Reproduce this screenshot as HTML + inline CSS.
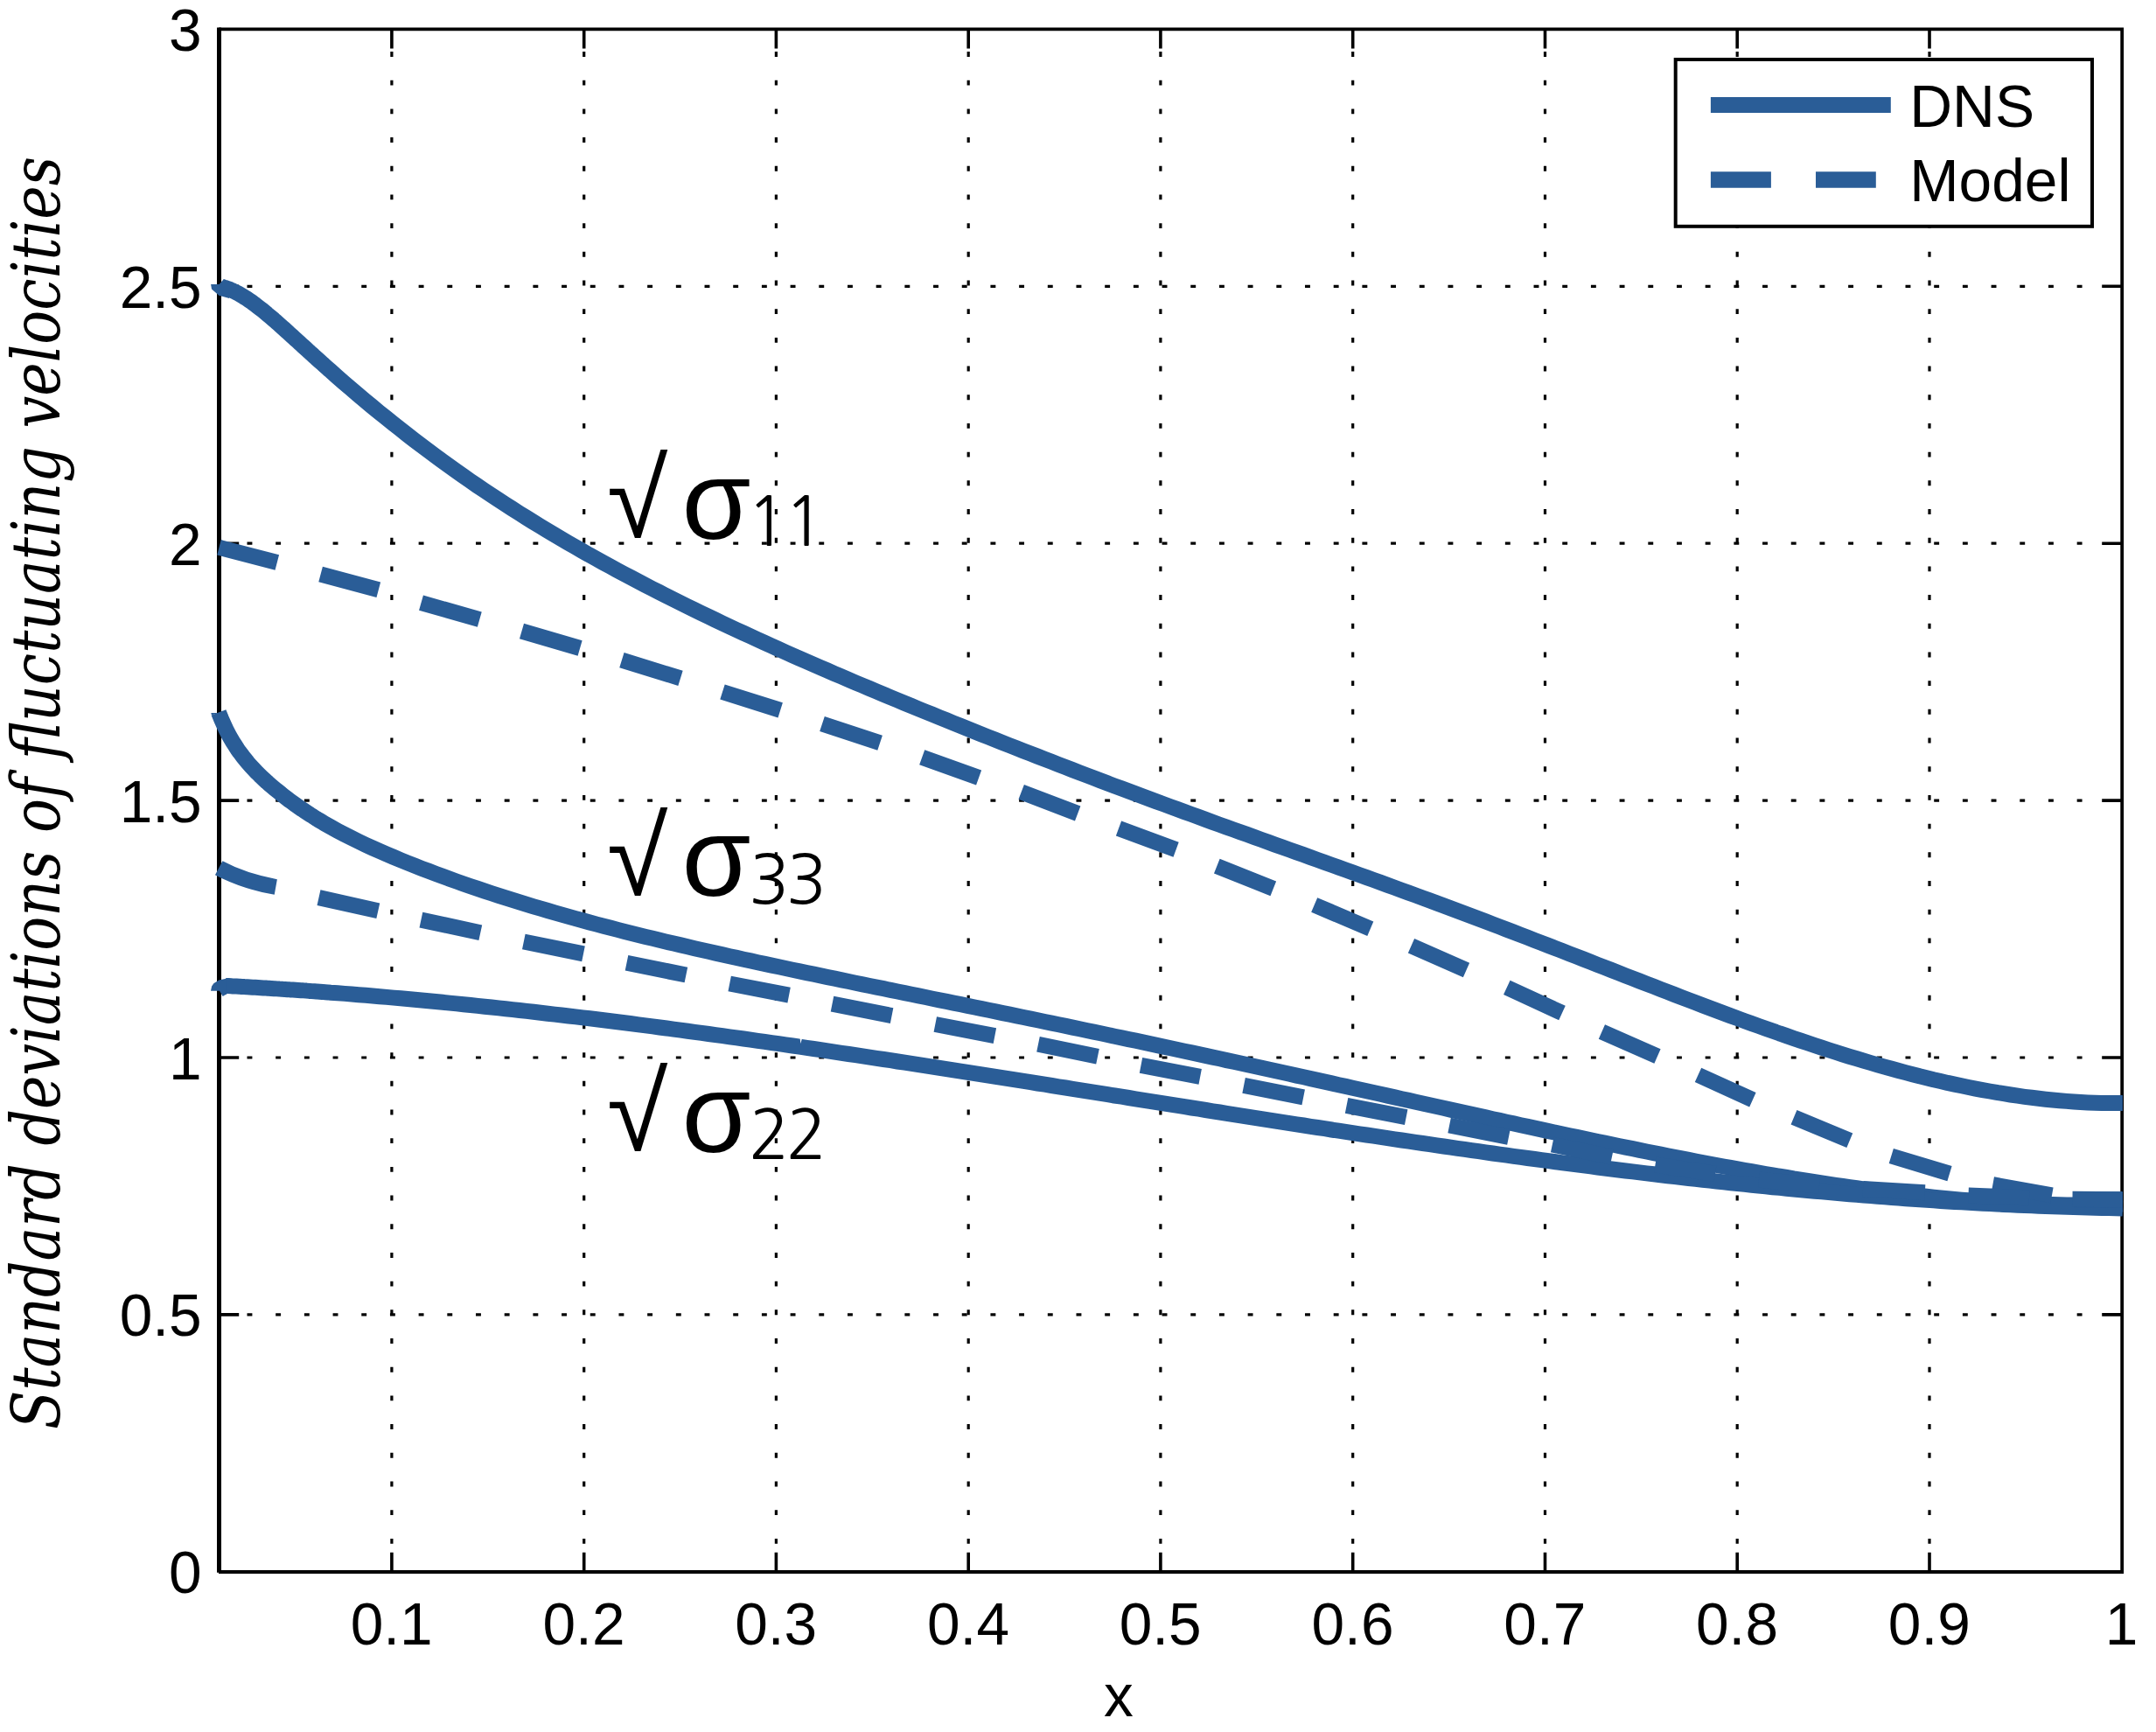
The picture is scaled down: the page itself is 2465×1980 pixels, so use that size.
<!DOCTYPE html>
<html><head><meta charset="utf-8"><title>Standard deviations of fluctuating velocities</title>
<style>
html,body{margin:0;padding:0;background:#fff}
svg{display:block}
text{font-family:"Liberation Sans",sans-serif;fill:#000}
.tk{font-size:67.6px}
.g{stroke:#000;stroke-width:3.2;stroke-dasharray:5.9 26.79;fill:none}
.c{stroke:#2a5d97;stroke-width:18;fill:none;stroke-linejoin:round}
.rt{font-size:126.5px}
.sg{font-size:128px}
.sb{font-family:"NanumGothic","Liberation Sans",sans-serif;font-size:76.5px;letter-spacing:-3.6px}
</style></head><body>
<svg width="2465" height="1980" viewBox="0 0 2465 1980">
<rect width="2465" height="1980" fill="#fff"/>

<g class="g">
<path d="M447.9 59V1771.8"/>
<path d="M667.7 59V1771.8"/>
<path d="M887.4 59V1771.8"/>
<path d="M1107.2 59V1771.8"/>
<path d="M1326.9 59V1771.8"/>
<path d="M1546.7 59V1771.8"/>
<path d="M1766.5 59V1771.8"/>
<path d="M1986.2 59V1771.8"/>
<path d="M2206.0 59V1771.8"/>
<path d="M282.5 1502.9H2401.2"/>
<path d="M282.5 1209.0H2401.2"/>
<path d="M282.5 915.1H2401.2"/>
<path d="M282.5 621.2H2401.2"/>
<path d="M282.5 327.3H2401.2"/>
</g>
<g stroke="#000" stroke-width="3.6" fill="none">
<path d="M447.9 33.4v22M447.9 1796.8v-22"/>
<path d="M667.7 33.4v22M667.7 1796.8v-22"/>
<path d="M887.4 33.4v22M887.4 1796.8v-22"/>
<path d="M1107.2 33.4v22M1107.2 1796.8v-22"/>
<path d="M1326.9 33.4v22M1326.9 1796.8v-22"/>
<path d="M1546.7 33.4v22M1546.7 1796.8v-22"/>
<path d="M1766.5 33.4v22M1766.5 1796.8v-22"/>
<path d="M1986.2 33.4v22M1986.2 1796.8v-22"/>
<path d="M2206.0 33.4v22M2206.0 1796.8v-22"/>
<path d="M250.7 1502.9h22.5M2426.2 1502.9h-23"/>
<path d="M250.7 1209.0h22.5M2426.2 1209.0h-23"/>
<path d="M250.7 915.1h22.5M2426.2 915.1h-23"/>
<path d="M250.7 621.2h22.5M2426.2 621.2h-23"/>
<path d="M250.7 327.3h22.5M2426.2 327.3h-23"/>
</g>
<g stroke="#000" fill="none"><path d="M250.5 31.5V1797.8" stroke-width="5"/><path d="M250 33.4H2428.1M2426.2 31.5V1798.9M250 1797H2428.1" stroke-width="3.8"/></g>
<path class="c" d="M257.1 328.9L260.2 330.0L263.3 331.1L265.1 331.9L266.3 332.5L269.4 334.0L272.5 335.6L273.1 335.9L275.6 337.3L278.6 339.2L281.1 340.7L281.7 341.1L284.8 343.2L287.9 345.3L289.1 346.2L290.9 347.6L294.0 349.9L297.1 352.3L297.1 352.3L300.2 354.7L303.3 357.2L305.1 358.8L306.3 359.8L309.4 362.4L312.5 365.0L313.1 365.6L315.6 367.7L318.6 370.4L321.2 372.7L321.7 373.2L324.8 375.9L327.9 378.7L329.2 379.9L330.9 381.5L334.0 384.3L337.1 387.1L337.2 387.2L340.2 389.9L343.3 392.7L345.2 394.5L346.3 395.5L349.4 398.3L352.5 401.1L353.2 401.8L355.6 403.9L358.6 406.7L361.2 409.0L361.7 409.5L364.8 412.3L367.9 415.0L369.2 416.2L370.9 417.8L374.0 420.5L377.1 423.3L377.2 423.3L385.2 430.4L393.2 437.4L401.2 444.3L409.2 451.1L417.2 457.8L425.2 464.5L433.2 471.1L441.3 477.6L449.3 484.0L457.3 490.3L465.3 496.6L473.3 502.8L481.3 508.9L489.3 514.9L497.3 520.9L505.3 526.7L513.3 532.5L521.3 538.3L529.3 543.9L537.3 549.5L545.3 555.0L553.3 560.4L561.4 565.7L569.4 571.0L577.4 576.2L585.4 581.4L593.4 586.5L601.4 591.5L609.4 596.5L617.4 601.4L625.4 606.2L633.4 611.0L641.4 615.7L649.4 620.4L657.4 625.0L665.4 629.6L673.4 634.2L681.5 638.6L689.5 643.1L697.5 647.4L705.5 651.8L713.5 656.1L721.5 660.3L729.5 664.5L737.5 668.7L745.5 672.9L753.5 676.9L761.5 681.0L769.5 685.0L777.5 689.0L785.5 693.0L793.5 696.9L801.6 700.8L809.6 704.7L817.6 708.5L825.6 712.3L833.6 716.1L841.6 719.8L849.6 723.5L857.6 727.2L865.6 730.9L873.6 734.5L881.6 738.2L889.6 741.8L897.6 745.4L905.6 748.9L913.6 752.5L921.7 756.0L929.7 759.5L937.7 763.0L945.7 766.4L953.7 769.9L961.7 773.3L969.7 776.8L977.7 780.2L985.7 783.5L993.7 786.9L1001.7 790.3L1009.7 793.6L1017.7 797.0L1025.7 800.3L1033.7 803.6L1041.8 806.9L1049.8 810.2L1057.8 813.5L1065.8 816.7L1073.8 820.0L1081.8 823.2L1089.8 826.5L1097.8 829.7L1105.8 832.9L1113.8 836.1L1121.8 839.3L1129.8 842.5L1137.8 845.7L1145.8 848.8L1153.8 852.0L1161.9 855.1L1169.9 858.3L1177.9 861.4L1185.9 864.5L1193.9 867.6L1201.9 870.7L1209.9 873.8L1217.9 876.9L1225.9 880.0L1233.9 883.1L1241.9 886.1L1249.9 889.2L1257.9 892.2L1265.9 895.2L1273.9 898.3L1282.0 901.3L1290.0 904.3L1298.0 907.3L1306.0 910.2L1314.0 913.2L1322.0 916.2L1330.0 919.1L1338.0 922.1L1346.0 925.0L1354.0 928.0L1362.0 930.9L1370.0 933.8L1378.0 936.8L1386.0 939.7L1394.0 942.6L1402.0 945.5L1410.1 948.4L1418.1 951.3L1426.1 954.1L1434.1 957.0L1442.1 959.9L1450.1 962.8L1458.1 965.7L1466.1 968.5L1474.1 971.4L1482.1 974.3L1490.1 977.1L1498.1 980.0L1506.1 982.9L1514.1 985.7L1522.1 988.6L1530.2 991.5L1538.2 994.4L1546.2 997.2L1554.2 1000.1L1562.2 1003.0L1570.2 1005.9L1578.2 1008.8L1586.2 1011.7L1594.2 1014.6L1602.2 1017.6L1610.2 1020.5L1618.2 1023.4L1626.2 1026.4L1634.2 1029.3L1642.2 1032.3L1650.3 1035.3L1658.3 1038.3L1666.3 1041.3L1674.3 1044.3L1682.3 1047.3L1690.3 1050.3L1698.3 1053.3L1706.3 1056.4L1714.3 1059.4L1722.3 1062.5L1730.3 1065.5L1738.3 1068.6L1746.3 1071.7L1754.3 1074.8L1762.3 1077.9L1770.4 1081.0L1778.4 1084.1L1786.4 1087.2L1794.4 1090.3L1802.4 1093.4L1810.4 1096.5L1818.4 1099.7L1826.4 1102.8L1834.4 1105.9L1842.4 1109.0L1850.4 1112.2L1858.4 1115.3L1866.4 1118.4L1874.4 1121.5L1882.4 1124.6L1890.5 1127.7L1898.5 1130.8L1906.5 1133.9L1914.5 1137.0L1922.5 1140.1L1930.5 1143.1L1938.5 1146.2L1946.5 1149.2L1954.5 1152.2L1962.5 1155.2L1970.5 1158.2L1978.5 1161.2L1986.5 1164.1L1994.5 1167.1L2002.5 1170.0L2010.6 1172.9L2018.6 1175.7L2026.6 1178.5L2034.6 1181.4L2042.6 1184.1L2050.6 1186.9L2058.6 1189.6L2066.6 1192.3L2074.6 1195.0L2082.6 1197.6L2090.6 1200.2L2098.6 1202.8L2106.6 1205.3L2114.6 1207.8L2122.6 1210.2L2130.7 1212.6L2138.7 1215.0L2146.7 1217.3L2154.7 1219.6L2162.7 1221.8L2170.7 1224.0L2178.7 1226.1L2186.7 1228.2L2194.7 1230.3L2202.7 1232.2L2210.7 1234.2L2218.7 1236.0L2226.7 1237.9L2234.7 1239.6L2242.7 1241.3L2250.8 1243.0L2258.8 1244.6L2266.8 1246.1L2274.8 1247.5L2282.8 1248.9L2290.8 1250.2L2298.8 1251.5L2306.8 1252.7L2314.8 1253.8L2322.8 1254.8L2330.8 1255.8L2338.8 1256.7L2346.8 1257.5L2354.8 1258.2L2362.8 1258.9L2370.9 1259.5L2378.9 1260.0L2386.9 1260.4L2394.9 1260.7L2402.9 1260.9L2410.9 1261.1L2418.9 1261.1L2426.9 1261.1"/>
<path class="c" d="M250.0 814.5L253.1 822.2L256.2 829.2L258.0 833.1L259.2 835.6L262.3 841.4L265.4 846.8L266.0 847.8L268.5 851.7L271.5 856.4L274.0 859.9L274.6 860.7L277.7 864.8L280.8 868.7L282.0 870.2L283.8 872.4L286.9 875.9L290.0 879.2L290.0 879.2L293.1 882.4L296.2 885.5L298.0 887.3L299.2 888.5L302.3 891.4L305.4 894.2L306.0 894.7L308.5 896.9L311.5 899.5L314.0 901.6L314.6 902.1L317.7 904.6L320.8 907.1L322.0 908.1L323.8 909.5L326.9 911.9L330.0 914.2L330.0 914.3L333.1 916.5L336.2 918.8L338.0 920.1L339.2 920.9L342.3 923.1L345.4 925.2L346.0 925.6L348.5 927.3L351.5 929.3L354.0 930.9L354.6 931.3L357.7 933.2L360.8 935.2L362.0 936.0L363.8 937.1L366.9 938.9L370.0 940.7L370.0 940.8L378.1 945.4L386.1 949.8L394.1 954.0L402.1 958.1L410.1 962.0L418.1 965.8L426.1 969.5L434.1 973.0L442.1 976.5L450.1 979.9L458.1 983.2L466.1 986.5L474.1 989.7L482.1 992.8L490.1 995.8L498.1 998.9L506.1 1001.8L514.1 1004.7L522.1 1007.6L530.1 1010.4L538.1 1013.2L546.1 1015.9L554.1 1018.6L562.1 1021.3L570.1 1023.9L578.1 1026.4L586.1 1028.9L594.1 1031.4L602.1 1033.9L610.1 1036.3L618.2 1038.7L626.2 1041.0L634.2 1043.3L642.2 1045.6L650.2 1047.9L658.2 1050.1L666.2 1052.3L674.2 1054.5L682.2 1056.6L690.2 1058.7L698.2 1060.8L706.2 1062.9L714.2 1064.9L722.2 1066.9L730.2 1068.9L738.2 1070.9L746.2 1072.8L754.2 1074.8L762.2 1076.7L770.2 1078.6L778.2 1080.4L786.2 1082.3L794.2 1084.2L802.2 1086.0L810.2 1087.8L818.2 1089.6L826.2 1091.4L834.2 1093.2L842.2 1094.9L850.2 1096.7L858.3 1098.4L866.3 1100.2L874.3 1101.9L882.3 1103.6L890.3 1105.3L898.3 1107.0L906.3 1108.7L914.3 1110.4L922.3 1112.1L930.3 1113.7L938.3 1115.4L946.3 1117.1L954.3 1118.7L962.3 1120.4L970.3 1122.0L978.3 1123.7L986.3 1125.3L994.3 1127.0L1002.3 1128.6L1010.3 1130.2L1018.3 1131.9L1026.3 1133.5L1034.3 1135.1L1042.3 1136.8L1050.3 1138.4L1058.3 1140.0L1066.3 1141.7L1074.3 1143.3L1082.3 1144.9L1090.3 1146.6L1098.4 1148.2L1106.4 1149.8L1114.4 1151.5L1122.4 1153.1L1130.4 1154.8L1138.4 1156.4L1146.4 1158.1L1154.4 1159.7L1162.4 1161.3L1170.4 1163.0L1178.4 1164.6L1186.4 1166.3L1194.4 1168.0L1202.4 1169.6L1210.4 1171.3L1218.4 1172.9L1226.4 1174.6L1234.4 1176.3L1242.4 1178.0L1250.4 1179.6L1258.4 1181.3L1266.4 1183.0L1274.4 1184.7L1282.4 1186.4L1290.4 1188.1L1298.4 1189.7L1306.4 1191.4L1314.4 1193.1L1322.4 1194.9L1330.4 1196.6L1338.5 1198.3L1346.5 1200.0L1354.5 1201.7L1362.5 1203.4L1370.5 1205.1L1378.5 1206.9L1386.5 1208.6L1394.5 1210.3L1402.5 1212.1L1410.5 1213.8L1418.5 1215.5L1426.5 1217.3L1434.5 1219.0L1442.5 1220.8L1450.5 1222.5L1458.5 1224.3L1466.5 1226.0L1474.5 1227.8L1482.5 1229.6L1490.5 1231.3L1498.5 1233.1L1506.5 1234.9L1514.5 1236.6L1522.5 1238.4L1530.5 1240.2L1538.5 1241.9L1546.5 1243.7L1554.5 1245.5L1562.5 1247.3L1570.5 1249.0L1578.5 1250.8L1586.6 1252.6L1594.6 1254.4L1602.6 1256.2L1610.6 1257.9L1618.6 1259.7L1626.6 1261.5L1634.6 1263.3L1642.6 1265.0L1650.6 1266.8L1658.6 1268.6L1666.6 1270.4L1674.6 1272.1L1682.6 1273.9L1690.6 1275.6L1698.6 1277.4L1706.6 1279.2L1714.6 1280.9L1722.6 1282.7L1730.6 1284.4L1738.6 1286.2L1746.6 1287.9L1754.6 1289.6L1762.6 1291.4L1770.6 1293.1L1778.6 1294.8L1786.6 1296.5L1794.6 1298.2L1802.6 1299.9L1810.6 1301.6L1818.6 1303.3L1826.7 1305.0L1834.7 1306.6L1842.7 1308.3L1850.7 1310.0L1858.7 1311.6L1866.7 1313.2L1874.7 1314.9L1882.7 1316.5L1890.7 1318.1L1898.7 1319.7L1906.7 1321.3L1914.7 1322.8L1922.7 1324.4L1930.7 1325.9L1938.7 1327.5L1946.7 1329.0L1954.7 1330.5L1962.7 1332.0L1970.7 1333.5L1978.7 1334.9L1986.7 1336.4L1994.7 1337.8L2002.7 1339.2L2010.7 1340.6L2018.7 1342.0L2026.7 1343.4L2034.7 1344.7L2042.7 1346.0L2050.7 1347.4L2058.7 1348.6L2066.8 1349.9L2074.8 1351.2L2082.8 1352.4L2090.8 1353.6L2098.8 1354.8L2106.8 1355.9L2114.8 1357.1L2122.8 1358.2L2130.8 1359.3L2138.8 1360.3L2146.8 1361.3L2154.8 1362.4L2162.8 1363.3L2170.8 1364.3L2178.8 1365.2L2186.8 1366.1L2194.8 1367.0L2202.8 1367.8L2210.8 1368.6L2218.8 1369.4L2226.8 1370.2L2234.8 1370.9L2242.8 1371.6L2250.8 1372.2L2258.8 1372.8L2266.8 1373.4L2274.8 1373.9L2282.8 1374.4L2290.8 1374.9L2298.8 1375.3L2306.9 1375.7L2314.9 1376.1L2322.9 1376.4L2330.9 1376.7L2338.9 1376.9L2346.9 1377.1L2354.9 1377.3L2362.9 1377.4L2370.9 1377.4L2378.9 1377.5L2386.9 1377.4L2394.9 1377.4L2402.9 1377.3L2410.9 1377.1L2418.9 1376.9L2426.9 1376.6"/>
<path class="c" d="M258.0 1127.0L261.1 1127.1L264.2 1127.3L266.0 1127.4L267.2 1127.5L270.3 1127.6L273.4 1127.8L274.0 1127.8L276.5 1128.0L279.5 1128.1L282.0 1128.3L282.6 1128.3L285.7 1128.5L288.8 1128.7L290.0 1128.7L291.8 1128.8L294.9 1129.0L298.0 1129.2L298.0 1129.2L301.1 1129.4L304.2 1129.6L306.0 1129.7L307.2 1129.8L310.3 1130.0L313.4 1130.2L314.0 1130.2L316.5 1130.4L319.5 1130.6L322.0 1130.7L322.6 1130.8L325.7 1131.0L328.8 1131.2L330.0 1131.2L331.8 1131.4L334.9 1131.6L338.0 1131.8L338.0 1131.8L341.1 1132.0L344.2 1132.2L346.0 1132.3L347.2 1132.4L350.3 1132.6L353.4 1132.9L354.0 1132.9L356.5 1133.1L359.5 1133.3L362.0 1133.5L362.6 1133.5L365.7 1133.7L368.8 1134.0L370.0 1134.1L371.8 1134.2L374.9 1134.4L378.0 1134.7L378.0 1134.7L386.1 1135.3L394.1 1135.9L402.1 1136.5L410.1 1137.2L418.1 1137.8L426.1 1138.5L434.1 1139.2L442.1 1139.9L450.1 1140.6L458.1 1141.3L466.1 1142.0L474.1 1142.8L482.1 1143.5L490.1 1144.3L498.1 1145.0L506.1 1145.8L514.1 1146.6L522.1 1147.4L530.1 1148.2L538.1 1149.0L546.1 1149.9L554.1 1150.7L562.1 1151.5L570.1 1152.4L578.1 1153.3L586.1 1154.1L594.1 1155.0L602.1 1155.9L610.1 1156.8L618.1 1157.7L626.2 1158.7L634.2 1159.6L642.2 1160.5L650.2 1161.5L658.2 1162.4L666.2 1163.4L674.2 1164.3L682.2 1165.3L690.2 1166.3L698.2 1167.3L706.2 1168.3L714.2 1169.3L722.2 1170.3L730.2 1171.4L738.2 1172.4L746.2 1173.4L754.2 1174.5L762.2 1175.5L770.2 1176.6L778.2 1177.7L786.2 1178.7L794.2 1179.8L802.2 1180.9L810.2 1182.0L818.2 1183.1L826.2 1184.2L834.2 1185.3L842.2 1186.4L850.2 1187.5L858.2 1188.7L866.3 1189.8L874.3 1190.9L882.3 1192.1L890.3 1193.2L898.3 1194.4L906.3 1195.5L914.3 1196.7L922.3 1197.9L930.3 1199.0L938.3 1200.2L946.3 1201.4L954.3 1202.6L962.3 1203.8L970.3 1205.0L978.3 1206.2L986.3 1207.4L994.3 1208.6L1002.3 1209.8L1010.3 1211.0L1018.3 1212.2L1026.3 1213.5L1034.3 1214.7L1042.3 1215.9L1050.3 1217.2L1058.3 1218.4L1066.3 1219.6L1074.3 1220.9L1082.3 1222.1L1090.3 1223.4L1098.3 1224.6L1106.4 1225.9L1114.4 1227.1L1122.4 1228.4L1130.4 1229.6L1138.4 1230.9L1146.4 1232.1L1154.4 1233.4L1162.4 1234.7L1170.4 1235.9L1178.4 1237.2L1186.4 1238.5L1194.4 1239.7L1202.4 1241.0L1210.4 1242.3L1218.4 1243.5L1226.4 1244.8L1234.4 1246.1L1242.4 1247.4L1250.4 1248.6L1258.4 1249.9L1266.4 1251.2L1274.4 1252.5L1282.4 1253.7L1290.4 1255.0L1298.4 1256.3L1306.4 1257.6L1314.4 1258.8L1322.4 1260.1L1330.4 1261.4L1338.4 1262.7L1346.5 1263.9L1354.5 1265.2L1362.5 1266.5L1370.5 1267.7L1378.5 1269.0L1386.5 1270.3L1394.5 1271.5L1402.5 1272.8L1410.5 1274.1L1418.5 1275.3L1426.5 1276.6L1434.5 1277.8L1442.5 1279.1L1450.5 1280.3L1458.5 1281.6L1466.5 1282.8L1474.5 1284.1L1482.5 1285.3L1490.5 1286.5L1498.5 1287.8L1506.5 1289.0L1514.5 1290.2L1522.5 1291.5L1530.5 1292.7L1538.5 1293.9L1546.5 1295.1L1554.5 1296.3L1562.5 1297.5L1570.5 1298.7L1578.5 1299.9L1586.6 1301.1L1594.6 1302.3L1602.6 1303.5L1610.6 1304.7L1618.6 1305.9L1626.6 1307.0L1634.6 1308.2L1642.6 1309.4L1650.6 1310.5L1658.6 1311.7L1666.6 1312.8L1674.6 1313.9L1682.6 1315.1L1690.6 1316.2L1698.6 1317.3L1706.6 1318.5L1714.6 1319.6L1722.6 1320.7L1730.6 1321.8L1738.6 1322.9L1746.6 1324.0L1754.6 1325.0L1762.6 1326.1L1770.6 1327.2L1778.6 1328.2L1786.6 1329.3L1794.6 1330.3L1802.6 1331.4L1810.6 1332.4L1818.6 1333.4L1826.7 1334.5L1834.7 1335.5L1842.7 1336.5L1850.7 1337.5L1858.7 1338.5L1866.7 1339.4L1874.7 1340.4L1882.7 1341.4L1890.7 1342.3L1898.7 1343.3L1906.7 1344.2L1914.7 1345.1L1922.7 1346.1L1930.7 1347.0L1938.7 1347.9L1946.7 1348.8L1954.7 1349.6L1962.7 1350.5L1970.7 1351.4L1978.7 1352.2L1986.7 1353.1L1994.7 1353.9L2002.7 1354.7L2010.7 1355.6L2018.7 1356.4L2026.7 1357.2L2034.7 1357.9L2042.7 1358.7L2050.7 1359.5L2058.7 1360.2L2066.8 1361.0L2074.8 1361.7L2082.8 1362.4L2090.8 1363.1L2098.8 1363.8L2106.8 1364.5L2114.8 1365.2L2122.8 1365.9L2130.8 1366.5L2138.8 1367.1L2146.8 1367.8L2154.8 1368.4L2162.8 1369.0L2170.8 1369.6L2178.8 1370.2L2186.8 1370.7L2194.8 1371.3L2202.8 1371.8L2210.8 1372.4L2218.8 1372.9L2226.8 1373.4L2234.8 1373.9L2242.8 1374.3L2250.8 1374.8L2258.8 1375.3L2266.8 1375.7L2274.8 1376.1L2282.8 1376.5L2290.8 1376.9L2298.8 1377.3L2306.9 1377.7L2314.9 1378.0L2322.9 1378.3L2330.9 1378.7L2338.9 1379.0L2346.9 1379.3L2354.9 1379.5L2362.9 1379.8L2370.9 1380.1L2378.9 1380.3L2386.9 1380.5L2394.9 1380.7L2402.9 1380.9L2410.9 1381.1L2418.9 1381.2L2426.9 1381.4"/>
<path class="c" d="M250.5 625.8L316.8 643.0M366.6 656.5L432.8 674.2M481.5 689.2L548.3 708.1M596.5 721.5L663.1 741.0M710.9 754.6L778.0 775.4M826.0 791.0L892.2 811.8M940.0 827.5L1006.1 849.2M1054.2 865.7L1119.1 889.0M1167.7 905.4L1232.2 930.0M1279.0 947.0L1344.6 971.2M1391.3 990.2L1455.8 1015.8M1502.7 1034.5L1566.8 1061.7M1613.5 1081.3L1676.5 1109.1M1722.8 1128.8L1786.0 1158.0M1831.4 1179.5L1895.0 1207.4M1941.5 1228.9L2003.9 1257.2M2051.0 1277.3L2114.8 1303.7M2162.3 1321.5L2229.0 1341.7M2278.4 1354.2L2346.0 1366.3M2371.0 1371.2L2426.9 1371.2"/>
<path class="c" d="M250.2 992.3Q278.6 1007.5 315.3 1014M364.5 1026.1L432.3 1041.2M481.4 1051.6L549.3 1066.2M598.8 1076.5L667.0 1090.4M716.5 1100.7L784.4 1114.5M834.2 1124.5L902.1 1137.6M951.5 1147.6L1019.6 1161.1M1069.3 1171.0L1137.4 1184.2M1187.0 1193.8L1255.0 1207.7M1304.5 1217.8L1372.2 1230.8M1422.1 1240.8L1490.2 1254.3M1539.6 1263.8L1607.7 1277.2M1657.1 1286.5L1724.9 1300.0M1774.8 1308.5L1842.9 1322.8M1892.5 1331.5L1961.0 1342.0M2011.0 1348.5L2080.0 1355.5M2130.0 1359.0L2200.8 1363.2M2250.5 1366.5L2320.0 1369.5M2369.5 1370.8L2426.9 1371.2"/>
<path fill="#2a5d97" d="M241.1 325.1H250.6L255.9 318.9L262 321.3V341L250.6 337.9L242 330.6Z"/>
<path fill="#2a5d97" d="M241 1132.7L242.1 1127.5L244.3 1124.2L250.2 1120.4L259.1 1118.6V1137L258 1137.1L254.7 1139L251 1132.7Z"/>
<path fill="#fff" d="M914.6 1186.6L916.9 1187.6L915.4 1193Z"/>
<path fill="#2a5d97" d="M241.3 814.9H250.2L241.9 817.6Z"/>
<rect x="1915.7" y="68" width="476.3" height="190.8" fill="#fff" stroke="#000" stroke-width="4"/>
<path d="M1955.9 120H2161.8" stroke="#2a5d97" stroke-width="18" fill="none"/>
<path d="M1955.9 205.5H2024.9M2076 205.5H2144.8" stroke="#2a5d97" stroke-width="18.5" fill="none"/>
<text class="tk" x="2183.3" y="145">DNS</text>
<text class="tk" x="2183.3" y="230">Model</text>
<text class="tk" text-anchor="end" x="230.7" y="1821.3">0</text>
<text class="tk" text-anchor="end" x="230.7" y="1527.4">0.5</text>
<text class="tk" text-anchor="end" x="230.7" y="1233.5">1</text>
<text class="tk" text-anchor="end" x="230.7" y="939.6">1.5</text>
<text class="tk" text-anchor="end" x="230.7" y="645.7">2</text>
<text class="tk" text-anchor="end" x="230.7" y="351.8">2.5</text>
<text class="tk" text-anchor="end" x="230.7" y="57.9">3</text>
<text class="tk" text-anchor="middle" x="447.7" y="1880.3">0.1</text>
<text class="tk" text-anchor="middle" x="667.5" y="1880.3">0.2</text>
<text class="tk" text-anchor="middle" x="887.2" y="1880.3">0.3</text>
<text class="tk" text-anchor="middle" x="1107.0" y="1880.3">0.4</text>
<text class="tk" text-anchor="middle" x="1326.7" y="1880.3">0.5</text>
<text class="tk" text-anchor="middle" x="1546.5" y="1880.3">0.6</text>
<text class="tk" text-anchor="middle" x="1766.3" y="1880.3">0.7</text>
<text class="tk" text-anchor="middle" x="1986.0" y="1880.3">0.8</text>
<text class="tk" text-anchor="middle" x="2205.8" y="1880.3">0.9</text>
<text class="tk" text-anchor="middle" x="2425.5" y="1880.3">1</text>
<text class="tk" text-anchor="middle" x="1279" y="1962">x</text>
<text transform="translate(68.4 1634) rotate(-90)" style="font-family:'DejaVu Serif','Liberation Serif',serif;font-style:italic;font-size:76px" textLength="1455" lengthAdjust="spacingAndGlyphs">Standard deviations of fluctuating velocities</text>
<text class="rt" x="694" y="613.8">√</text><text class="sg" x="779.5" y="615.6">σ</text><text class="sb" x="853.8" y="624.1">11</text>
<text class="rt" x="694" y="1022.6">√</text><text class="sg" x="779.5" y="1024.4">σ</text><text class="sb" x="856.2" y="1032.9">33</text>
<text class="rt" x="694" y="1314.7">√</text><text class="sg" x="779.5" y="1316.5">σ</text><text class="sb" x="856.2" y="1325.0">22</text>
</svg></body></html>
